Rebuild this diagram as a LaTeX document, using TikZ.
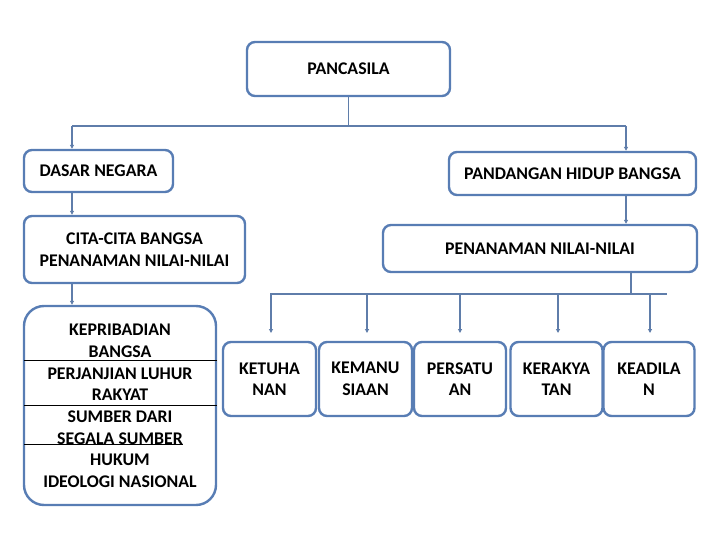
\documentclass[tikz,border=0pt]{standalone}
\usepackage{fontspec}
\setmainfont{Carlito}
\usetikzlibrary{arrows.meta}
\definecolor{bord}{RGB}{88,125,180}
\definecolor{conn}{RGB}{95,125,170}
\tikzset{
  box/.style={draw=bord, line width=2.4pt, rounded corners=8pt, fill=white, inner sep=0pt, align=center, font=\fontsize{17.8}{21.5}\selectfont\bfseries},
  conline/.style={draw=conn, line width=1.2pt},
  conarrow/.style={conline, -{Triangle[length=4pt,width=4pt]}},
  sep/.style={draw=black, line width=0.8pt}
}
\begin{document}
\begin{tikzpicture}[x=1pt,y=-1pt]
\useasboundingbox (0,0) rectangle (720,540);
% top
\node[box, minimum width=203pt, minimum height=54pt] (panc) at (348.5,69) {PANCASILA};
% left column
\node[box, minimum width=149pt, minimum height=42pt] (dasar) at (98.5,171) {DASAR NEGARA};
\node[box, minimum width=221pt, minimum height=67pt] (cita) at (134.5,249.5) {CITA-CITA BANGSA\\PENANAMAN NILAI-NILAI};
\node[box, rounded corners=20pt, minimum width=192pt, minimum height=199pt] (kep) at (120,405.5) {};
\node[font=\fontsize{17.8}{21.7}\selectfont\bfseries, align=center, anchor=north, inner sep=0pt] (keptext) at (120,324) {KEPRIBADIAN\\BANGSA\\PERJANJIAN LUHUR\\RAKYAT\\SUMBER DARI\\SEGALA SUMBER\\HUKUM\\IDEOLOGI NASIONAL};
\coordinate (s1a) at (24,360.5); \coordinate (s1b) at (217,360.5);
\coordinate (s2a) at (24,405); \coordinate (s2b) at (217,405);
\coordinate (s3a) at (24,444); \coordinate (s3b) at (183,444);
\draw[sep] (s1a) -- (s1b);
\draw[sep] (s2a) -- (s2b);
\draw[sep] (s3a) -- (s3b);
% right column
\node[box, minimum width=247pt, minimum height=43pt] (pand) at (572.5,173.5) {PANDANGAN HIDUP BANGSA};
\node[box, minimum width=314pt, minimum height=47pt] (pen) at (540,248.5) {PENANAMAN NILAI-NILAI};
% bottom row
\node[box, minimum width=93pt, minimum height=74pt] (b1) at (269.5,379) {KETUHA\\NAN};
\node[box, minimum width=93pt, minimum height=74pt] (b2) at (365.5,379) {KEMANU\\SIAAN};
\node[box, minimum width=92pt, minimum height=74pt] (b3) at (460,379) {PERSATU\\AN};
\node[box, minimum width=92pt, minimum height=74pt] (b4) at (556.5,379) {KERAKYA\\TAN};
\node[box, minimum width=91pt, minimum height=74pt] (b5) at (649,379) {KEADILA\\N};
% connectors top
\coordinate (j0) at (348.5,126);
\coordinate (jl) at (72,126);
\coordinate (jr) at (626,126);
\draw[conline] (panc.south) -- (j0);
\draw[conline] (jl) -- (jr);
\draw[conarrow] (jl) -- (jl |- dasar.north);
\draw[conarrow] (jr) -- (jr |- pand.north);
\draw[conarrow] (dasar.south -| jl) -- (jl |- cita.north);
\draw[conarrow] (cita.south -| jl) -- (jl |- kep.north);
\draw[conarrow] (pand.south -| jr) -- (jr |- pen.north);
% bottom bus
\coordinate (pb) at (631,272);
\coordinate (bj) at (631,294);
\coordinate (bl) at (270,294);
\coordinate (br) at (667,294);
\draw[conline] (pb) -- (bj);
\draw[conline] (bl) -- (br);
\coordinate (a1) at (271,294); \coordinate (a1e) at (271,333);
\coordinate (a2) at (367,294); \coordinate (a2e) at (367,333);
\coordinate (a3) at (460,294); \coordinate (a3e) at (460,333);
\coordinate (a4) at (558,294); \coordinate (a4e) at (558,333);
\coordinate (a5) at (650,294); \coordinate (a5e) at (650,333);
\draw[conarrow] (a1) -- (a1e);
\draw[conarrow] (a2) -- (a2e);
\draw[conarrow] (a3) -- (a3e);
\draw[conarrow] (a4) -- (a4e);
\draw[conarrow] (a5) -- (a5e);
\end{tikzpicture}
\end{document}
